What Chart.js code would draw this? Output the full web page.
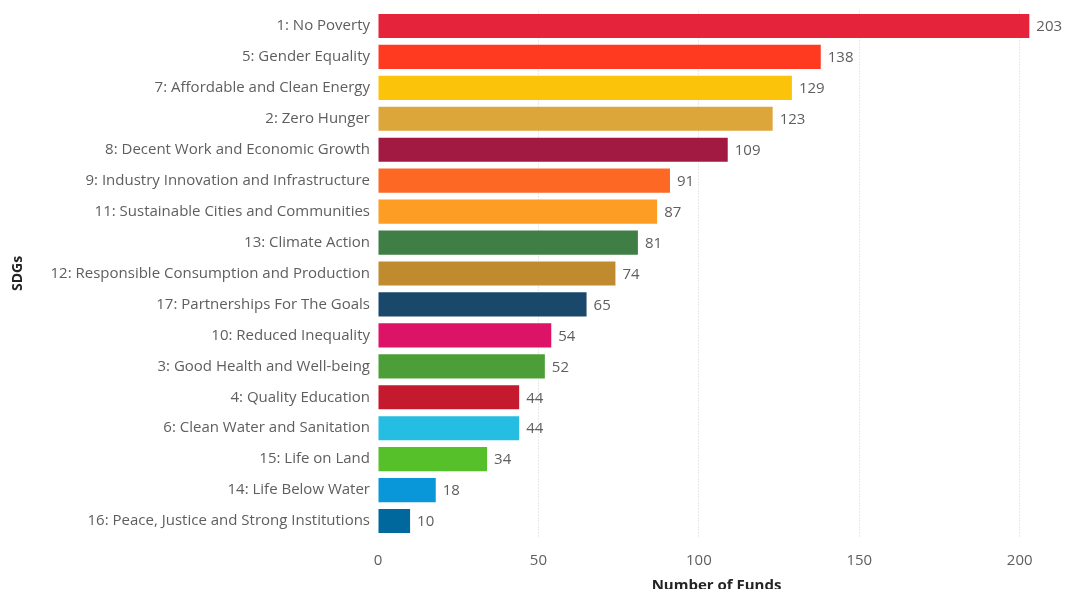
<!DOCTYPE html>
<html>
<head>
<meta charset="utf-8">
<script src="https://cdn.jsdelivr.net/npm/chart.js@4/dist/chart.umd.min.js"></script>
<style>
html, body { margin: 0; padding: 0; background: #fff; overflow: hidden; }
#wrap { position: relative; width: 1065px; height: 600px; }
</style>
</head>
<body>
<div id="wrap"><canvas id="graficoSdg"></canvas></div>
<script>
const sdgs = [
'1: No Poverty',
'5: Gender Equality',
'7: Affordable and Clean Energy',
'2: Zero Hunger',
'8: Decent Work and Economic Growth',
'9: Industry Innovation and Infrastructure',
'11: Sustainable Cities and Communities',
'13: Climate Action',
'12: Responsible Consumption and Production',
'17: Partnerships For The Goals',
'10: Reduced Inequality',
'3: Good Health and Well-being',
'4: Quality Education',
'6: Clean Water and Sanitation',
'15: Life on Land',
'14: Life Below Water',
'16: Peace, Justice and Strong Institutions'
];
const numFunds = [203, 138, 129, 123, 109, 91, 87, 81, 74, 65, 54, 52, 44, 44, 34, 18, 10];
const sdgColors = [
'#E5243B', '#FF3A21', '#FCC30B', '#DDA63A', '#A21942', '#FD6925',
'#FD9D24', '#3F7E44', '#BF8B2E', '#19486A', '#DD1367', '#4C9F38',
'#C5192D', '#26BDE2', '#56C02B', '#0A97D9', '#00689D'
];
const xTicks = [0, 50, 100, 150, 200];

const fonte = '"Open Sans", "Noto Sans", sans-serif';
const cinza = '#605E5C';

// escreve o valor ao lado de cada barra
const rotulos = {
id: 'rotulos',
afterDatasetsDraw(chart) {
const ctx = chart.ctx;
const meta = chart.getDatasetMeta(0);
ctx.save();
ctx.font = '15px ' + fonte;
ctx.fillStyle = cinza;
ctx.textAlign = 'left';
ctx.textBaseline = 'middle';
meta.data.forEach((bar, i) => {
ctx.fillText(String(chart.data.datasets[0].data[i]), bar.x + 7, bar.y + 1);
});
ctx.restore();
}
};

const ctx_graficoSdg = document.getElementById('graficoSdg');
const graficoSdg = new Chart(ctx_graficoSdg, {
type: 'bar',
data: {
labels: sdgs,
datasets: [{
label: 'Number of Funds',
data: numFunds,
backgroundColor: sdgColors,
borderWidth: 0,
barPercentage: 0.78,
categoryPercentage: 1
}]
},
options: {
indexAxis: 'y',
responsive: true,
maintainAspectRatio: false,
animation: false,
layout: { padding: { top: 10.5, left: 8, right: 10, bottom: 0 } },
plugins: {
legend: { display: false },
tooltip: { enabled: false }
},
scales: {
x: {
min: 0,
max: 211,
afterBuildTicks: (scale) => {
scale.ticks = xTicks.map(v => ({ value: v }));
},
afterFit: (scale) => { scale.height = 63.5; },
border: { display: false, dash: [1, 2] },
grid: {
drawTicks: false,
color: (c) => c.tick && c.tick.value === 0 ? 'rgba(0,0,0,0)' : 'rgba(180,180,180,0.6)',
lineWidth: 1
},
ticks: {
padding: 15,
color: cinza,
font: { family: fonte, size: 15 }
},
title: {
display: true,
text: 'Number of Funds',
color: '#252423',
font: { family: fonte, size: 15, weight: 'bold' },
padding: { top: 0, bottom: 5 }
}
},
y: {
afterFit: (scale) => {
scale.width = 370;
scale.paddingTop = 0;
scale.paddingBottom = 0;
},
border: { display: false },
grid: { display: false, drawTicks: false },
ticks: {
padding: 8,
color: cinza,
font: { family: fonte, size: 15 }
},
title: {
display: true,
text: 'SDGs',
color: '#252423',
font: { family: fonte, size: 14, weight: 'bold' },
padding: { top: 2, bottom: 0 }
}
}
}
},
plugins: [rotulos]
});
</script>
</body>
</html>
